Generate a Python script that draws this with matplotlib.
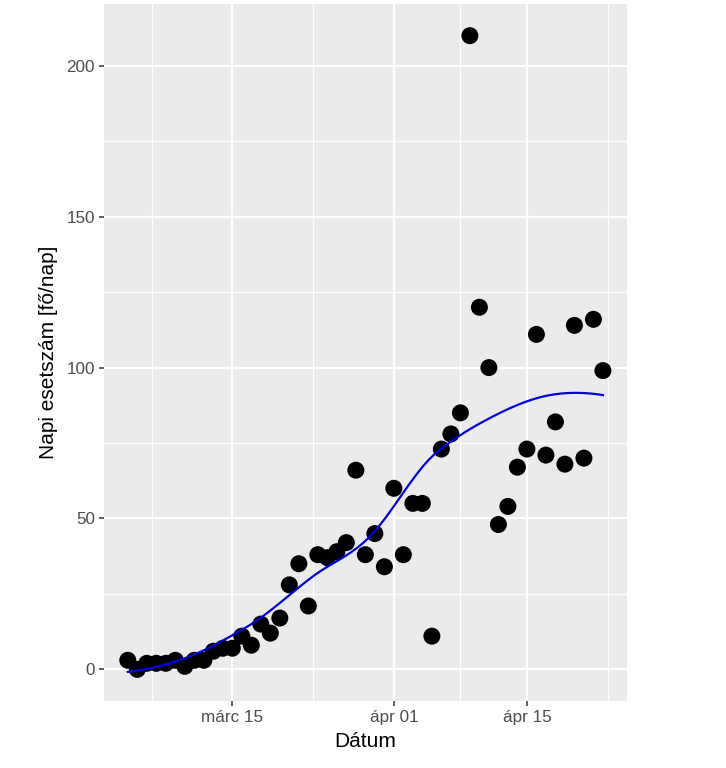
import numpy as np
import pandas as pd
import matplotlib
matplotlib.use("Agg")
import matplotlib.pyplot as plt
import matplotlib.dates as mdates

plt.rcParams["font.family"] = ["Liberation Sans", "DejaVu Sans"]

# daily new cases, 2020-03-04 .. 2020-04-23
start_date = "2020-03-04"
end_date = "2020-04-23"
cases = [3, 0, 2, 2, 2, 3, 1, 3, 3, 6,
         7, 7, 11, 8, 15, 12, 17, 28, 35, 21,
         38, 37, 39, 42, 66, 38, 45, 34, 60, 38,
         55, 55, 11, 73, 78, 85, 210, 120, 100, 48,
         54, 67, 73, 111, 71, 82, 68, 114, 70, 116,
         99]
tick_dates = ["2020-03-15", "2020-04-01", "2020-04-15"]
tick_labels = ["márc 15", "ápr 01", "ápr 15"]
y_ticks = [0, 50, 100, 150, 200]


def local_fit(x, y, x0, q):
    # local quadratic fit with tricube weights, returns value and slope
    d = np.abs(x - x0)
    h = np.sort(d)[q - 1]
    w = np.clip(1 - (d / h) ** 3, 0, None) ** 3
    X = np.column_stack([np.ones(len(x)), x - x0, (x - x0) ** 2])
    W = np.sqrt(w)
    beta = np.linalg.lstsq(X * W[:, None], y * W, rcond=None)[0]
    return beta[0], beta[1]


def loess(x, y, xnew, span=0.75):
    # mimic R loess(surface="interpolate"): kd-tree vertices + cubic hermite
    n = len(x)
    q = int(np.floor(n * span))
    fc = int(np.floor(n * span * 0.2))
    xs = np.sort(x)
    t = 0.005 * (xs[-1] - xs[0])
    verts = [xs[0] - t, xs[-1] + t]

    def split(l, u):
        if u - l + 1 <= fc:
            return
        m = (l + u) // 2
        verts.append((xs[m] + xs[m + 1]) / 2)
        split(l, m)
        split(m + 1, u)

    split(0, n - 1)
    verts = np.sort(verts)
    vals = np.array([local_fit(x, y, v, q) for v in verts])
    out = []
    for x0 in xnew:
        i = min(np.searchsorted(verts, x0, side="right") - 1, len(verts) - 2)
        a, b = verts[i], verts[i + 1]
        hh = b - a
        s = (x0 - a) / hh
        h00 = 2 * s**3 - 3 * s**2 + 1
        h10 = s**3 - 2 * s**2 + s
        h01 = -2 * s**3 + 3 * s**2
        h11 = s**3 - s**2
        out.append(h00 * vals[i, 0] + h10 * hh * vals[i, 1]
                   + h01 * vals[i + 1, 0] + h11 * hh * vals[i + 1, 1])
    return np.array(out)


dates = pd.date_range(start_date, end_date, freq="D")
xnum = mdates.date2num(dates)
yv = np.array(cases, dtype=float)
xs = np.linspace(xnum.min(), xnum.max(), 80)
ys = loess(xnum, yv, xs)

fig = plt.figure(figsize=(7.26, 7.68), dpi=100)
ax = fig.add_axes([0.1433, 0.0872, 0.7199, 0.9076])
ax.set_facecolor("#EBEBEB")
for s in ax.spines.values():
    s.set_visible(False)

major = mdates.date2num(pd.to_datetime(tick_dates))
bd = major[1] - major[0]
ext = np.concatenate([[major[0] - bd], major, [major[-1] + bd]])
minor_x = (ext[:-1] + ext[1:]) / 2
minor_y = [25, 75, 125, 175]

for m in minor_x:
    ax.axvline(m, color="white", lw=0.8, zorder=0)
for m in minor_y:
    ax.axhline(m, color="white", lw=0.8, zorder=0)
for m in major:
    ax.axvline(m, color="white", lw=1.6, zorder=0)
for m in y_ticks:
    ax.axhline(m, color="white", lw=1.6, zorder=0)

ax.scatter(xnum, yv, s=150, color="black", edgecolors="none", zorder=3)
ax.plot(xs, ys, color="#0000E0", lw=1.6, zorder=4)

xr = xnum.max() - xnum.min()
ax.set_xlim(xnum.min() - 0.05 * xr, xnum.max() + 0.05 * xr)
yr = yv.max() - yv.min()
ax.set_ylim(yv.min() - 0.05 * yr, yv.max() + 0.05 * yr)

ax.set_xticks(major)
ax.set_xticklabels(tick_labels)
ax.set_yticks(y_ticks)
ax.tick_params(axis="both", colors="#333333", length=3.5, width=1.1,
               labelsize=12.3, labelcolor="#4D4D4D", pad=3)

ax.set_xlabel("Dátum", fontsize=15, labelpad=5)
ax.set_ylabel("Napi esetszám [fő/nap]", fontsize=15, labelpad=6.4)

fig.savefig("out.png", dpi=100)
